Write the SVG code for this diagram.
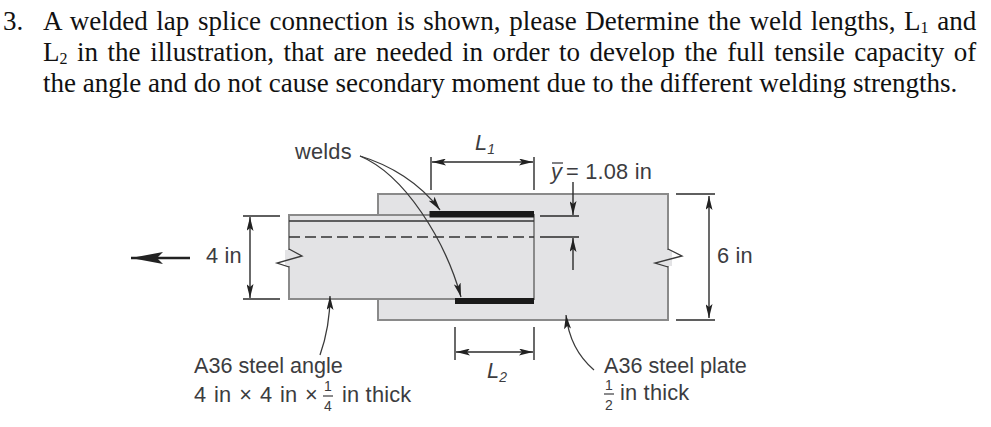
<svg xmlns="http://www.w3.org/2000/svg" width="991" height="427" viewBox="0 0 991 427">
<style>
.q{font-family:"Liberation Serif",serif;font-size:27px;fill:#111}
.l{font-family:"Liberation Sans",Arial,sans-serif;font-size:21.800px;letter-spacing:.2px;fill:#3c3c40}
.t{letter-spacing:0;font-size:21.600px}
.f{font-family:"Liberation Sans",Arial,sans-serif;font-size:14px;fill:#3c3c40;text-anchor:middle}
.i{font-style:italic}
.s{fill:#e3e3e5;stroke:#8a8a8a;stroke-width:2}
.d{fill:none;stroke:#2b2b2b;stroke-width:1.400}
.g{fill:none;stroke:#3a3a3a;stroke-width:1.300}
.w{fill:#1a1a1a}
</style>
<defs>
<marker id="a" viewBox="0 0 14 7" refX="14" refY="3.500" markerWidth="14" markerHeight="7" markerUnits="userSpaceOnUse" orient="auto-start-reverse"><path d="M0 0L14 3.500L0 7L3 3.500Z" fill="#222"/></marker>
<marker id="b" viewBox="0 0 32 12" refX="32" refY="6" markerWidth="32" markerHeight="12" markerUnits="userSpaceOnUse" orient="auto"><path d="M0 0L32 6L0 12L6 6Z" fill="#222"/></marker>
</defs>
<rect width="991" height="427" fill="#fff"/>
<g id="question">
<text class="q" x="3" y="30">3.</text>
<text class="q" x="43" y="30" word-spacing="1.900">A welded lap splice connection is shown, please Determine the weld lengths, L<tspan font-size="16" dy="3">1</tspan><tspan dy="-3"> and</tspan></text>
<text class="q" x="43" y="61" word-spacing="2.800">L<tspan font-size="16" dy="3">2</tspan><tspan dy="-3"> in the illustration, that are needed in order to develop the full tensile capacity of</tspan></text>
<text class="q" x="43" y="92">the angle and do not cause secondary moment due to the different welding strengths.</text>
</g>
<g id="plate">
<rect class="s" x="378" y="194" width="290" height="126"/>
<rect x="664" y="250" width="8" height="16" fill="#e3e3e5"/>
<path d="M668 249L682 256L655 263L668 267" class="g"/>
</g>
<g id="angle">
<rect class="s" x="289" y="215" width="245" height="84"/>
<path d="M289 221H534" stroke="#333" stroke-width="1.400"/>
<path d="M289 237H534" stroke="#333" stroke-width="1.400" stroke-dasharray="11 5"/>
<rect x="285" y="250" width="8" height="16" fill="#e3e3e5"/>
<path d="M289 249L302 256L277 263L289 267" class="g"/>
</g>
<g id="weld-top"><rect class="w" x="429.500" y="211" width="104.500" height="6.500"/></g>
<g id="weld-bottom"><rect class="w" x="455" y="298" width="79" height="6"/></g>
<g id="connectors">
<path d="M190 258H131" stroke="#222" stroke-width="2.500" marker-end="url(#b)"/>
<path d="M243 216H280M243 299H280" class="d"/>
<path d="M250 217V298" class="d" marker-start="url(#a)" marker-end="url(#a)"/>
<path d="M431 157V190M534 157V190" class="d"/>
<path d="M432 162H533" class="d" marker-start="url(#a)" marker-end="url(#a)"/>
<path d="M455 327V360M534 327V360" class="d"/>
<path d="M456 352H533" class="d" marker-start="url(#a)" marker-end="url(#a)"/>
<path d="M540 216H579M540 237H579" class="d"/>
<path d="M573 182V215" class="d" marker-end="url(#a)"/>
<path d="M573 270V238" class="d" marker-end="url(#a)"/>
<path d="M676 194H715M676 320H715" class="d"/>
<path d="M709 196V318" class="d" marker-start="url(#a)" marker-end="url(#a)"/>
<path d="M360 156C390 165 420 183 440 210" class="g" marker-end="url(#a)"/>
<path d="M360 156C405 175 445 240 461 297" class="g" marker-end="url(#a)"/>
<path d="M320 355C326 338 330 320 330 296" class="g" marker-end="url(#a)"/>
<path d="M594 370C580 358 569 342 566 315" class="g" marker-end="url(#a)"/>
</g>
<g id="labels">
<text class="l" x="295" y="159">welds</text>
<text class="l" x="206" y="263">4 in</text>
<text class="l" x="717" y="263">6 in</text>
<text class="l i" x="551" y="179">y</text>
<path d="M552 163H563" stroke="#3c3c40" stroke-width="1.300"/>
<text class="l" x="566" y="179">= 1.08 in</text>
<text class="l i" x="475" y="150">L<tspan font-size="14" dy="4">1</tspan></text>
<text class="l i" x="487" y="378">L<tspan font-size="14" dy="4">2</tspan></text>
<text class="l t" x="194" y="373">A36 steel angle</text>
<text class="l" x="194" y="402" word-spacing="1.500">4 in × 4 in ×</text>
<text class="f" x="328" y="391">1</text>
<path d="M323 396H333" stroke="#3c3c40" stroke-width="1.200"/>
<text class="f" x="328" y="411">4</text>
<text class="l" x="342" y="402">in thick</text>
<text class="l t" x="604" y="373">A36 steel plate</text>
<text class="f" x="609" y="390">1</text>
<path d="M604 394H614" stroke="#3c3c40" stroke-width="1.200"/>
<text class="f" x="609" y="410">2</text>
<text class="l" x="620" y="400">in thick</text>
</g>
</svg>
